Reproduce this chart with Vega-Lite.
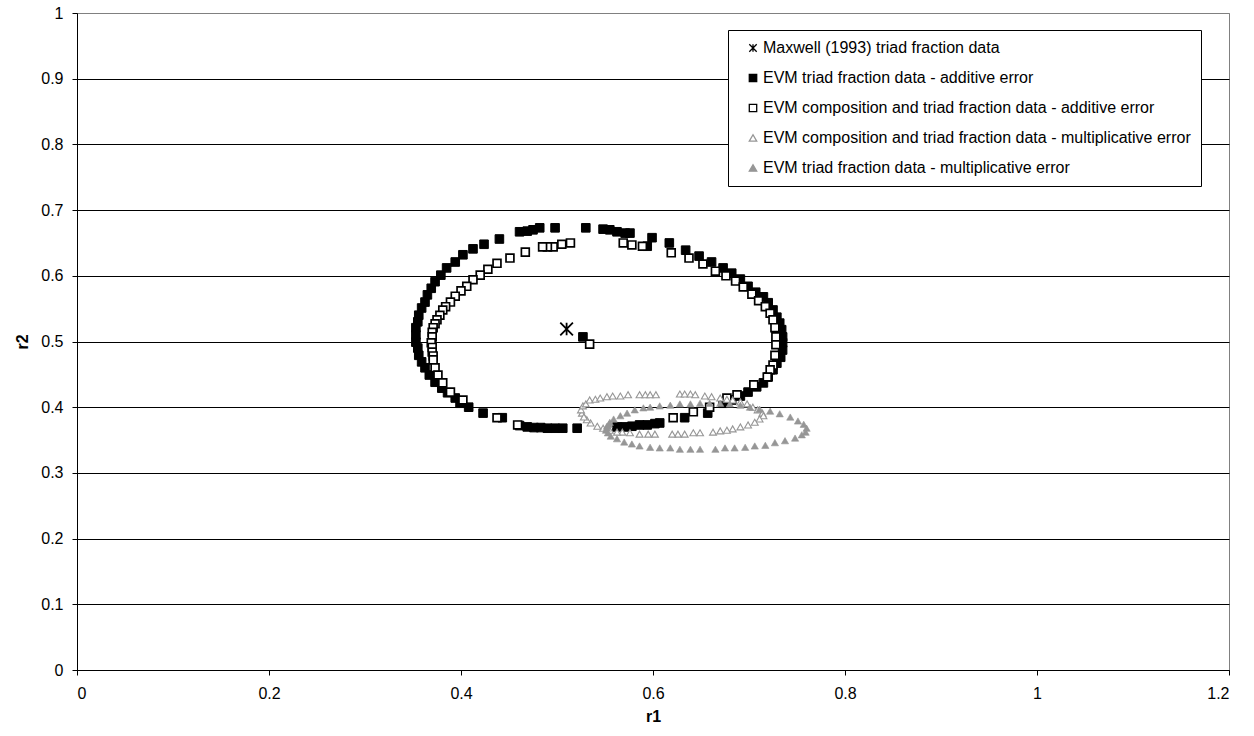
{
  "$schema": "https://vega.github.io/schema/vega-lite/v6.json",
  "width": 1152,
  "height": 657,
  "autosize": {"type": "none"},
  "padding": {"left": 77, "top": 13, "right": 25, "bottom": 66},
  "background": "white",
  "config": {
    "font": "Liberation Sans",
    "view": {"stroke": "#808080", "strokeWidth": 1}
  },
  "datasets": {
    "pts": [
      {"s": "Maxwell (1993) triad fraction data", "r1": 0.510, "r2": 0.519},
      {"s": "EVM triad fraction data - additive error", "r1": 0.498, "r2": 0.673},
      {"s": "EVM triad fraction data - additive error", "r1": 0.482, "r2": 0.673},
      {"s": "EVM triad fraction data - additive error", "r1": 0.475, "r2": 0.670},
      {"s": "EVM triad fraction data - additive error", "r1": 0.469, "r2": 0.668},
      {"s": "EVM triad fraction data - additive error", "r1": 0.461, "r2": 0.667},
      {"s": "EVM triad fraction data - additive error", "r1": 0.440, "r2": 0.656},
      {"s": "EVM triad fraction data - additive error", "r1": 0.424, "r2": 0.648},
      {"s": "EVM triad fraction data - additive error", "r1": 0.4125, "r2": 0.641},
      {"s": "EVM triad fraction data - additive error", "r1": 0.402, "r2": 0.632},
      {"s": "EVM triad fraction data - additive error", "r1": 0.394, "r2": 0.621},
      {"s": "EVM triad fraction data - additive error", "r1": 0.385, "r2": 0.612},
      {"s": "EVM triad fraction data - additive error", "r1": 0.379, "r2": 0.601},
      {"s": "EVM triad fraction data - additive error", "r1": 0.373, "r2": 0.591},
      {"s": "EVM triad fraction data - additive error", "r1": 0.369, "r2": 0.581},
      {"s": "EVM triad fraction data - additive error", "r1": 0.365, "r2": 0.571},
      {"s": "EVM triad fraction data - additive error", "r1": 0.3625, "r2": 0.560},
      {"s": "EVM triad fraction data - additive error", "r1": 0.359, "r2": 0.551},
      {"s": "EVM triad fraction data - additive error", "r1": 0.356, "r2": 0.540},
      {"s": "EVM triad fraction data - additive error", "r1": 0.355, "r2": 0.530},
      {"s": "EVM triad fraction data - additive error", "r1": 0.353, "r2": 0.521},
      {"s": "EVM triad fraction data - additive error", "r1": 0.353, "r2": 0.510},
      {"s": "EVM triad fraction data - additive error", "r1": 0.353, "r2": 0.499},
      {"s": "EVM triad fraction data - additive error", "r1": 0.355, "r2": 0.490},
      {"s": "EVM triad fraction data - additive error", "r1": 0.356, "r2": 0.479},
      {"s": "EVM triad fraction data - additive error", "r1": 0.359, "r2": 0.469},
      {"s": "EVM triad fraction data - additive error", "r1": 0.3625, "r2": 0.460},
      {"s": "EVM triad fraction data - additive error", "r1": 0.367, "r2": 0.449},
      {"s": "EVM triad fraction data - additive error", "r1": 0.373, "r2": 0.438},
      {"s": "EVM triad fraction data - additive error", "r1": 0.380, "r2": 0.429},
      {"s": "EVM triad fraction data - additive error", "r1": 0.386, "r2": 0.422},
      {"s": "EVM triad fraction data - additive error", "r1": 0.394, "r2": 0.414},
      {"s": "EVM triad fraction data - additive error", "r1": 0.399, "r2": 0.406},
      {"s": "EVM triad fraction data - additive error", "r1": 0.408, "r2": 0.400},
      {"s": "EVM triad fraction data - additive error", "r1": 0.423, "r2": 0.391},
      {"s": "EVM triad fraction data - additive error", "r1": 0.443, "r2": 0.384},
      {"s": "EVM triad fraction data - additive error", "r1": 0.461, "r2": 0.372},
      {"s": "EVM triad fraction data - additive error", "r1": 0.469, "r2": 0.370},
      {"s": "EVM triad fraction data - additive error", "r1": 0.476, "r2": 0.369},
      {"s": "EVM triad fraction data - additive error", "r1": 0.483, "r2": 0.369},
      {"s": "EVM triad fraction data - additive error", "r1": 0.490, "r2": 0.368},
      {"s": "EVM triad fraction data - additive error", "r1": 0.498, "r2": 0.368},
      {"s": "EVM triad fraction data - additive error", "r1": 0.506, "r2": 0.368},
      {"s": "EVM triad fraction data - additive error", "r1": 0.521, "r2": 0.368},
      {"s": "EVM triad fraction data - additive error", "r1": 0.5625, "r2": 0.370},
      {"s": "EVM triad fraction data - additive error", "r1": 0.571, "r2": 0.370},
      {"s": "EVM triad fraction data - additive error", "r1": 0.578, "r2": 0.371},
      {"s": "EVM triad fraction data - additive error", "r1": 0.586, "r2": 0.373},
      {"s": "EVM triad fraction data - additive error", "r1": 0.594, "r2": 0.373},
      {"s": "EVM triad fraction data - additive error", "r1": 0.602, "r2": 0.375},
      {"s": "EVM triad fraction data - additive error", "r1": 0.607, "r2": 0.376},
      {"s": "EVM triad fraction data - additive error", "r1": 0.633, "r2": 0.384},
      {"s": "EVM triad fraction data - additive error", "r1": 0.657, "r2": 0.391},
      {"s": "EVM triad fraction data - additive error", "r1": 0.673, "r2": 0.406},
      {"s": "EVM triad fraction data - additive error", "r1": 0.682, "r2": 0.411},
      {"s": "EVM triad fraction data - additive error", "r1": 0.691, "r2": 0.417},
      {"s": "EVM triad fraction data - additive error", "r1": 0.699, "r2": 0.423},
      {"s": "EVM triad fraction data - additive error", "r1": 0.708, "r2": 0.431},
      {"s": "EVM triad fraction data - additive error", "r1": 0.715, "r2": 0.437},
      {"s": "EVM triad fraction data - additive error", "r1": 0.720, "r2": 0.446},
      {"s": "EVM triad fraction data - additive error", "r1": 0.725, "r2": 0.457},
      {"s": "EVM triad fraction data - additive error", "r1": 0.729, "r2": 0.467},
      {"s": "EVM triad fraction data - additive error", "r1": 0.733, "r2": 0.476},
      {"s": "EVM triad fraction data - additive error", "r1": 0.735, "r2": 0.487},
      {"s": "EVM triad fraction data - additive error", "r1": 0.735, "r2": 0.498},
      {"s": "EVM triad fraction data - additive error", "r1": 0.735, "r2": 0.507},
      {"s": "EVM triad fraction data - additive error", "r1": 0.734, "r2": 0.518},
      {"s": "EVM triad fraction data - additive error", "r1": 0.732, "r2": 0.528},
      {"s": "EVM triad fraction data - additive error", "r1": 0.729, "r2": 0.537},
      {"s": "EVM triad fraction data - additive error", "r1": 0.725, "r2": 0.548},
      {"s": "EVM triad fraction data - additive error", "r1": 0.720, "r2": 0.559},
      {"s": "EVM triad fraction data - additive error", "r1": 0.715, "r2": 0.568},
      {"s": "EVM triad fraction data - additive error", "r1": 0.707, "r2": 0.575},
      {"s": "EVM triad fraction data - additive error", "r1": 0.699, "r2": 0.584},
      {"s": "EVM triad fraction data - additive error", "r1": 0.691, "r2": 0.595},
      {"s": "EVM triad fraction data - additive error", "r1": 0.682, "r2": 0.604},
      {"s": "EVM triad fraction data - additive error", "r1": 0.673, "r2": 0.612},
      {"s": "EVM triad fraction data - additive error", "r1": 0.661, "r2": 0.621},
      {"s": "EVM triad fraction data - additive error", "r1": 0.648, "r2": 0.630},
      {"s": "EVM triad fraction data - additive error", "r1": 0.634, "r2": 0.639},
      {"s": "EVM triad fraction data - additive error", "r1": 0.617, "r2": 0.650},
      {"s": "EVM triad fraction data - additive error", "r1": 0.599, "r2": 0.658},
      {"s": "EVM triad fraction data - additive error", "r1": 0.594, "r2": 0.645},
      {"s": "EVM triad fraction data - additive error", "r1": 0.576, "r2": 0.665},
      {"s": "EVM triad fraction data - additive error", "r1": 0.571, "r2": 0.665},
      {"s": "EVM triad fraction data - additive error", "r1": 0.5625, "r2": 0.667},
      {"s": "EVM triad fraction data - additive error", "r1": 0.555, "r2": 0.670},
      {"s": "EVM triad fraction data - additive error", "r1": 0.548, "r2": 0.671},
      {"s": "EVM triad fraction data - additive error", "r1": 0.530, "r2": 0.673},
      {"s": "EVM triad fraction data - additive error", "r1": 0.527, "r2": 0.507},
      {"s": "EVM composition and triad fraction data - additive error", "r1": 0.514, "r2": 0.650},
      {"s": "EVM composition and triad fraction data - additive error", "r1": 0.505, "r2": 0.648},
      {"s": "EVM composition and triad fraction data - additive error", "r1": 0.496, "r2": 0.644},
      {"s": "EVM composition and triad fraction data - additive error", "r1": 0.490, "r2": 0.644},
      {"s": "EVM composition and triad fraction data - additive error", "r1": 0.485, "r2": 0.644},
      {"s": "EVM composition and triad fraction data - additive error", "r1": 0.467, "r2": 0.636},
      {"s": "EVM composition and triad fraction data - additive error", "r1": 0.451, "r2": 0.627},
      {"s": "EVM composition and triad fraction data - additive error", "r1": 0.4375, "r2": 0.619},
      {"s": "EVM composition and triad fraction data - additive error", "r1": 0.428, "r2": 0.610},
      {"s": "EVM composition and triad fraction data - additive error", "r1": 0.420, "r2": 0.601},
      {"s": "EVM composition and triad fraction data - additive error", "r1": 0.4125, "r2": 0.594},
      {"s": "EVM composition and triad fraction data - additive error", "r1": 0.406, "r2": 0.584},
      {"s": "EVM composition and triad fraction data - additive error", "r1": 0.400, "r2": 0.577},
      {"s": "EVM composition and triad fraction data - additive error", "r1": 0.394, "r2": 0.569},
      {"s": "EVM composition and triad fraction data - additive error", "r1": 0.389, "r2": 0.560},
      {"s": "EVM composition and triad fraction data - additive error", "r1": 0.384, "r2": 0.553},
      {"s": "EVM composition and triad fraction data - additive error", "r1": 0.381, "r2": 0.548},
      {"s": "EVM composition and triad fraction data - additive error", "r1": 0.378, "r2": 0.540},
      {"s": "EVM composition and triad fraction data - additive error", "r1": 0.375, "r2": 0.533},
      {"s": "EVM composition and triad fraction data - additive error", "r1": 0.373, "r2": 0.527},
      {"s": "EVM composition and triad fraction data - additive error", "r1": 0.371, "r2": 0.521},
      {"s": "EVM composition and triad fraction data - additive error", "r1": 0.370, "r2": 0.514},
      {"s": "EVM composition and triad fraction data - additive error", "r1": 0.370, "r2": 0.507},
      {"s": "EVM composition and triad fraction data - additive error", "r1": 0.369, "r2": 0.498},
      {"s": "EVM composition and triad fraction data - additive error", "r1": 0.370, "r2": 0.491},
      {"s": "EVM composition and triad fraction data - additive error", "r1": 0.370, "r2": 0.484},
      {"s": "EVM composition and triad fraction data - additive error", "r1": 0.371, "r2": 0.478},
      {"s": "EVM composition and triad fraction data - additive error", "r1": 0.371, "r2": 0.472},
      {"s": "EVM composition and triad fraction data - additive error", "r1": 0.373, "r2": 0.460},
      {"s": "EVM composition and triad fraction data - additive error", "r1": 0.376, "r2": 0.449},
      {"s": "EVM composition and triad fraction data - additive error", "r1": 0.381, "r2": 0.437},
      {"s": "EVM composition and triad fraction data - additive error", "r1": 0.389, "r2": 0.423},
      {"s": "EVM composition and triad fraction data - additive error", "r1": 0.402, "r2": 0.411},
      {"s": "EVM composition and triad fraction data - additive error", "r1": 0.4375, "r2": 0.384},
      {"s": "EVM composition and triad fraction data - additive error", "r1": 0.459, "r2": 0.373},
      {"s": "EVM composition and triad fraction data - additive error", "r1": 0.569, "r2": 0.650},
      {"s": "EVM composition and triad fraction data - additive error", "r1": 0.578, "r2": 0.647},
      {"s": "EVM composition and triad fraction data - additive error", "r1": 0.589, "r2": 0.645},
      {"s": "EVM composition and triad fraction data - additive error", "r1": 0.619, "r2": 0.635},
      {"s": "EVM composition and triad fraction data - additive error", "r1": 0.6375, "r2": 0.627},
      {"s": "EVM composition and triad fraction data - additive error", "r1": 0.652, "r2": 0.618},
      {"s": "EVM composition and triad fraction data - additive error", "r1": 0.665, "r2": 0.607},
      {"s": "EVM composition and triad fraction data - additive error", "r1": 0.676, "r2": 0.600},
      {"s": "EVM composition and triad fraction data - additive error", "r1": 0.686, "r2": 0.592},
      {"s": "EVM composition and triad fraction data - additive error", "r1": 0.694, "r2": 0.583},
      {"s": "EVM composition and triad fraction data - additive error", "r1": 0.703, "r2": 0.572},
      {"s": "EVM composition and triad fraction data - additive error", "r1": 0.710, "r2": 0.562},
      {"s": "EVM composition and triad fraction data - additive error", "r1": 0.717, "r2": 0.553},
      {"s": "EVM composition and triad fraction data - additive error", "r1": 0.722, "r2": 0.543},
      {"s": "EVM composition and triad fraction data - additive error", "r1": 0.725, "r2": 0.533},
      {"s": "EVM composition and triad fraction data - additive error", "r1": 0.727, "r2": 0.521},
      {"s": "EVM composition and triad fraction data - additive error", "r1": 0.728, "r2": 0.507},
      {"s": "EVM composition and triad fraction data - additive error", "r1": 0.728, "r2": 0.495},
      {"s": "EVM composition and triad fraction data - additive error", "r1": 0.727, "r2": 0.479},
      {"s": "EVM composition and triad fraction data - additive error", "r1": 0.725, "r2": 0.464},
      {"s": "EVM composition and triad fraction data - additive error", "r1": 0.722, "r2": 0.457},
      {"s": "EVM composition and triad fraction data - additive error", "r1": 0.719, "r2": 0.446},
      {"s": "EVM composition and triad fraction data - additive error", "r1": 0.705, "r2": 0.434},
      {"s": "EVM composition and triad fraction data - additive error", "r1": 0.6875, "r2": 0.419},
      {"s": "EVM composition and triad fraction data - additive error", "r1": 0.677, "r2": 0.414},
      {"s": "EVM composition and triad fraction data - additive error", "r1": 0.659, "r2": 0.400},
      {"s": "EVM composition and triad fraction data - additive error", "r1": 0.642, "r2": 0.393},
      {"s": "EVM composition and triad fraction data - additive error", "r1": 0.621, "r2": 0.384},
      {"s": "EVM composition and triad fraction data - additive error", "r1": 0.534, "r2": 0.496},
      {"s": "EVM composition and triad fraction data - multiplicative error", "r1": 0.526, "r2": 0.391},
      {"s": "EVM composition and triad fraction data - multiplicative error", "r1": 0.525, "r2": 0.396},
      {"s": "EVM composition and triad fraction data - multiplicative error", "r1": 0.527, "r2": 0.402},
      {"s": "EVM composition and triad fraction data - multiplicative error", "r1": 0.530, "r2": 0.405},
      {"s": "EVM composition and triad fraction data - multiplicative error", "r1": 0.534, "r2": 0.411},
      {"s": "EVM composition and triad fraction data - multiplicative error", "r1": 0.540, "r2": 0.412},
      {"s": "EVM composition and triad fraction data - multiplicative error", "r1": 0.545, "r2": 0.414},
      {"s": "EVM composition and triad fraction data - multiplicative error", "r1": 0.552, "r2": 0.416},
      {"s": "EVM composition and triad fraction data - multiplicative error", "r1": 0.558, "r2": 0.417},
      {"s": "EVM composition and triad fraction data - multiplicative error", "r1": 0.566, "r2": 0.417},
      {"s": "EVM composition and triad fraction data - multiplicative error", "r1": 0.574, "r2": 0.419},
      {"s": "EVM composition and triad fraction data - multiplicative error", "r1": 0.586, "r2": 0.419},
      {"s": "EVM composition and triad fraction data - multiplicative error", "r1": 0.592, "r2": 0.419},
      {"s": "EVM composition and triad fraction data - multiplicative error", "r1": 0.597, "r2": 0.419},
      {"s": "EVM composition and triad fraction data - multiplicative error", "r1": 0.603, "r2": 0.419},
      {"s": "EVM composition and triad fraction data - multiplicative error", "r1": 0.628, "r2": 0.420},
      {"s": "EVM composition and triad fraction data - multiplicative error", "r1": 0.633, "r2": 0.420},
      {"s": "EVM composition and triad fraction data - multiplicative error", "r1": 0.639, "r2": 0.420},
      {"s": "EVM composition and triad fraction data - multiplicative error", "r1": 0.644, "r2": 0.419},
      {"s": "EVM composition and triad fraction data - multiplicative error", "r1": 0.654, "r2": 0.417},
      {"s": "EVM composition and triad fraction data - multiplicative error", "r1": 0.661, "r2": 0.416},
      {"s": "EVM composition and triad fraction data - multiplicative error", "r1": 0.670, "r2": 0.414},
      {"s": "EVM composition and triad fraction data - multiplicative error", "r1": 0.677, "r2": 0.412},
      {"s": "EVM composition and triad fraction data - multiplicative error", "r1": 0.683, "r2": 0.411},
      {"s": "EVM composition and triad fraction data - multiplicative error", "r1": 0.691, "r2": 0.408},
      {"s": "EVM composition and triad fraction data - multiplicative error", "r1": 0.698, "r2": 0.405},
      {"s": "EVM composition and triad fraction data - multiplicative error", "r1": 0.704, "r2": 0.400},
      {"s": "EVM composition and triad fraction data - multiplicative error", "r1": 0.709, "r2": 0.396},
      {"s": "EVM composition and triad fraction data - multiplicative error", "r1": 0.714, "r2": 0.391},
      {"s": "EVM composition and triad fraction data - multiplicative error", "r1": 0.715, "r2": 0.387},
      {"s": "EVM composition and triad fraction data - multiplicative error", "r1": 0.711, "r2": 0.382},
      {"s": "EVM composition and triad fraction data - multiplicative error", "r1": 0.706, "r2": 0.377},
      {"s": "EVM composition and triad fraction data - multiplicative error", "r1": 0.699, "r2": 0.373},
      {"s": "EVM composition and triad fraction data - multiplicative error", "r1": 0.691, "r2": 0.370},
      {"s": "EVM composition and triad fraction data - multiplicative error", "r1": 0.683, "r2": 0.367},
      {"s": "EVM composition and triad fraction data - multiplicative error", "r1": 0.677, "r2": 0.365},
      {"s": "EVM composition and triad fraction data - multiplicative error", "r1": 0.670, "r2": 0.364},
      {"s": "EVM composition and triad fraction data - multiplicative error", "r1": 0.6625, "r2": 0.362},
      {"s": "EVM composition and triad fraction data - multiplicative error", "r1": 0.649, "r2": 0.361},
      {"s": "EVM composition and triad fraction data - multiplicative error", "r1": 0.642, "r2": 0.361},
      {"s": "EVM composition and triad fraction data - multiplicative error", "r1": 0.633, "r2": 0.359},
      {"s": "EVM composition and triad fraction data - multiplicative error", "r1": 0.626, "r2": 0.359},
      {"s": "EVM composition and triad fraction data - multiplicative error", "r1": 0.620, "r2": 0.359},
      {"s": "EVM composition and triad fraction data - multiplicative error", "r1": 0.602, "r2": 0.359},
      {"s": "EVM composition and triad fraction data - multiplicative error", "r1": 0.595, "r2": 0.359},
      {"s": "EVM composition and triad fraction data - multiplicative error", "r1": 0.586, "r2": 0.359},
      {"s": "EVM composition and triad fraction data - multiplicative error", "r1": 0.576, "r2": 0.361},
      {"s": "EVM composition and triad fraction data - multiplicative error", "r1": 0.568, "r2": 0.362},
      {"s": "EVM composition and triad fraction data - multiplicative error", "r1": 0.5625, "r2": 0.362},
      {"s": "EVM composition and triad fraction data - multiplicative error", "r1": 0.555, "r2": 0.365},
      {"s": "EVM composition and triad fraction data - multiplicative error", "r1": 0.548, "r2": 0.368},
      {"s": "EVM composition and triad fraction data - multiplicative error", "r1": 0.542, "r2": 0.371},
      {"s": "EVM composition and triad fraction data - multiplicative error", "r1": 0.535, "r2": 0.376},
      {"s": "EVM composition and triad fraction data - multiplicative error", "r1": 0.531, "r2": 0.381},
      {"s": "EVM composition and triad fraction data - multiplicative error", "r1": 0.528, "r2": 0.385},
      {"s": "EVM triad fraction data - multiplicative error", "r1": 0.551, "r2": 0.365},
      {"s": "EVM triad fraction data - multiplicative error", "r1": 0.552, "r2": 0.368},
      {"s": "EVM triad fraction data - multiplicative error", "r1": 0.552, "r2": 0.371},
      {"s": "EVM triad fraction data - multiplicative error", "r1": 0.554, "r2": 0.374},
      {"s": "EVM triad fraction data - multiplicative error", "r1": 0.555, "r2": 0.377},
      {"s": "EVM triad fraction data - multiplicative error", "r1": 0.559, "r2": 0.382},
      {"s": "EVM triad fraction data - multiplicative error", "r1": 0.566, "r2": 0.387},
      {"s": "EVM triad fraction data - multiplicative error", "r1": 0.573, "r2": 0.391},
      {"s": "EVM triad fraction data - multiplicative error", "r1": 0.581, "r2": 0.396},
      {"s": "EVM triad fraction data - multiplicative error", "r1": 0.590, "r2": 0.399},
      {"s": "EVM triad fraction data - multiplicative error", "r1": 0.597, "r2": 0.400},
      {"s": "EVM triad fraction data - multiplicative error", "r1": 0.607, "r2": 0.402},
      {"s": "EVM triad fraction data - multiplicative error", "r1": 0.618, "r2": 0.403},
      {"s": "EVM triad fraction data - multiplicative error", "r1": 0.628, "r2": 0.405},
      {"s": "EVM triad fraction data - multiplicative error", "r1": 0.639, "r2": 0.405},
      {"s": "EVM triad fraction data - multiplicative error", "r1": 0.649, "r2": 0.406},
      {"s": "EVM triad fraction data - multiplicative error", "r1": 0.659, "r2": 0.406},
      {"s": "EVM triad fraction data - multiplicative error", "r1": 0.670, "r2": 0.406},
      {"s": "EVM triad fraction data - multiplicative error", "r1": 0.680, "r2": 0.405},
      {"s": "EVM triad fraction data - multiplicative error", "r1": 0.691, "r2": 0.403},
      {"s": "EVM triad fraction data - multiplicative error", "r1": 0.701, "r2": 0.400},
      {"s": "EVM triad fraction data - multiplicative error", "r1": 0.711, "r2": 0.397},
      {"s": "EVM triad fraction data - multiplicative error", "r1": 0.722, "r2": 0.394},
      {"s": "EVM triad fraction data - multiplicative error", "r1": 0.732, "r2": 0.390},
      {"s": "EVM triad fraction data - multiplicative error", "r1": 0.743, "r2": 0.385},
      {"s": "EVM triad fraction data - multiplicative error", "r1": 0.751, "r2": 0.379},
      {"s": "EVM triad fraction data - multiplicative error", "r1": 0.757, "r2": 0.374},
      {"s": "EVM triad fraction data - multiplicative error", "r1": 0.760, "r2": 0.368},
      {"s": "EVM triad fraction data - multiplicative error", "r1": 0.759, "r2": 0.362},
      {"s": "EVM triad fraction data - multiplicative error", "r1": 0.755, "r2": 0.358},
      {"s": "EVM triad fraction data - multiplicative error", "r1": 0.748, "r2": 0.353},
      {"s": "EVM triad fraction data - multiplicative error", "r1": 0.7375, "r2": 0.349},
      {"s": "EVM triad fraction data - multiplicative error", "r1": 0.727, "r2": 0.346},
      {"s": "EVM triad fraction data - multiplicative error", "r1": 0.717, "r2": 0.342},
      {"s": "EVM triad fraction data - multiplicative error", "r1": 0.706, "r2": 0.341},
      {"s": "EVM triad fraction data - multiplicative error", "r1": 0.696, "r2": 0.339},
      {"s": "EVM triad fraction data - multiplicative error", "r1": 0.685, "r2": 0.338},
      {"s": "EVM triad fraction data - multiplicative error", "r1": 0.675, "r2": 0.338},
      {"s": "EVM triad fraction data - multiplicative error", "r1": 0.665, "r2": 0.336},
      {"s": "EVM triad fraction data - multiplicative error", "r1": 0.649, "r2": 0.336},
      {"s": "EVM triad fraction data - multiplicative error", "r1": 0.639, "r2": 0.336},
      {"s": "EVM triad fraction data - multiplicative error", "r1": 0.628, "r2": 0.336},
      {"s": "EVM triad fraction data - multiplicative error", "r1": 0.618, "r2": 0.338},
      {"s": "EVM triad fraction data - multiplicative error", "r1": 0.607, "r2": 0.338},
      {"s": "EVM triad fraction data - multiplicative error", "r1": 0.597, "r2": 0.339},
      {"s": "EVM triad fraction data - multiplicative error", "r1": 0.586, "r2": 0.341},
      {"s": "EVM triad fraction data - multiplicative error", "r1": 0.578, "r2": 0.344},
      {"s": "EVM triad fraction data - multiplicative error", "r1": 0.570, "r2": 0.347},
      {"s": "EVM triad fraction data - multiplicative error", "r1": 0.5625, "r2": 0.352},
      {"s": "EVM triad fraction data - multiplicative error", "r1": 0.556, "r2": 0.356},
      {"s": "EVM triad fraction data - multiplicative error", "r1": 0.553, "r2": 0.361}
    ]
  },
  "data": {"name": "pts"},
  "mark": {"type": "point", "opacity": 1},
  "encoding": {
    "x": {
      "field": "r1", "type": "quantitative",
      "scale": {"domain": [0, 1.2], "nice": false, "zero": false},
      "axis": {
        "title": "r1", "values": [0, 0.2, 0.4, 0.6, 0.8, 1, 1.2], "format": "~g",
        "grid": false, "tickSize": 5, "tickColor": "black", "domainColor": "black",
        "labelFontSize": 16, "labelColor": "black", "labelPadding": 10,
        "titleFontSize": 16, "titleFontWeight": "bold", "titleColor": "black", "titlePadding": 7
      }
    },
    "y": {
      "field": "r2", "type": "quantitative",
      "scale": {"domain": [0, 1], "nice": false, "zero": false},
      "axis": {
        "title": "r2", "values": [0, 0.1, 0.2, 0.3, 0.4, 0.5, 0.6, 0.7, 0.8, 0.9, 1], "format": "~g",
        "grid": true,
        "gridColor": {"condition": {"test": "datum.value === 1", "value": "#808080"}, "value": "black"},
        "gridWidth": 1,
        "tickSize": 5, "tickColor": "black", "domainColor": "black",
        "labelFontSize": 16, "labelColor": "black", "labelPadding": 9,
        "titleFontSize": 16, "titleFontWeight": "bold", "titleColor": "black", "titlePadding": 10
      }
    },
    "shape": {
      "field": "s", "type": "nominal",
      "scale": {
        "domain": ["Maxwell (1993) triad fraction data", "EVM triad fraction data - additive error", "EVM composition and triad fraction data - additive error", "EVM composition and triad fraction data - multiplicative error", "EVM triad fraction data - multiplicative error"],
        "range": ["M-1,-1L1,1M-1,1L1,-1M0,-1L0,1", "square", "square", "triangle-up", "triangle-up"]
      },
      "legend": {
        "title": null, "orient": "none", "legendX": 651, "legendY": 17,
        "padding": 10, "strokeColor": "black", "fillColor": "white",
        "labelFontSize": 16, "labelColor": "black", "labelLimit": 800,
        "labelExpr": "datum.label + '\u00a0\u00a0\u00a0'",
        "symbolSize": 55, "symbolStrokeWidth": 1.3, "rowPadding": 14,
        "symbolOffset": 7, "labelOffset": 2
      }
    },
    "fill": {
      "field": "s", "type": "nominal",
      "scale": {
        "domain": ["Maxwell (1993) triad fraction data", "EVM triad fraction data - additive error", "EVM composition and triad fraction data - additive error", "EVM composition and triad fraction data - multiplicative error", "EVM triad fraction data - multiplicative error"],
        "range": ["transparent", "black", "white", "white", "#969696"]
      },
      "legend": {
        "title": null, "orient": "none", "legendX": 651, "legendY": 17,
        "padding": 10, "strokeColor": "black", "fillColor": "white",
        "labelFontSize": 16, "labelColor": "black", "labelLimit": 800,
        "labelExpr": "datum.label + '\u00a0\u00a0\u00a0'",
        "symbolSize": 55, "symbolStrokeWidth": 1.3, "rowPadding": 14,
        "symbolOffset": 7, "labelOffset": 2
      }
    },
    "stroke": {
      "field": "s", "type": "nominal",
      "scale": {
        "domain": ["Maxwell (1993) triad fraction data", "EVM triad fraction data - additive error", "EVM composition and triad fraction data - additive error", "EVM composition and triad fraction data - multiplicative error", "EVM triad fraction data - multiplicative error"],
        "range": ["black", "black", "black", "#969696", "#969696"]
      },
      "legend": {
        "title": null, "orient": "none", "legendX": 651, "legendY": 17,
        "padding": 10, "strokeColor": "black", "fillColor": "white",
        "labelFontSize": 16, "labelColor": "black", "labelLimit": 800,
        "labelExpr": "datum.label + '\u00a0\u00a0\u00a0'",
        "symbolSize": 55, "symbolStrokeWidth": 1.3, "rowPadding": 14,
        "symbolOffset": 7, "labelOffset": 2
      }
    },
    "size": {
      "field": "s", "type": "nominal",
      "scale": {
        "type": "ordinal",
        "domain": ["EVM triad fraction data - multiplicative error", "EVM composition and triad fraction data - multiplicative error", "EVM composition and triad fraction data - additive error", "EVM triad fraction data - additive error", "Maxwell (1993) triad fraction data"],
        "range": [52, 48, 62, 74, 160]
      },
      "legend": null
    },
    "strokeWidth": {
      "field": "s", "type": "nominal",
      "scale": {
        "type": "ordinal",
        "domain": ["EVM triad fraction data - multiplicative error", "EVM composition and triad fraction data - multiplicative error", "EVM composition and triad fraction data - additive error", "EVM triad fraction data - additive error", "Maxwell (1993) triad fraction data"],
        "range": [0.6, 1.1, 1.7, 1, 1.8]
      },
      "legend": null
    }
  }
}
